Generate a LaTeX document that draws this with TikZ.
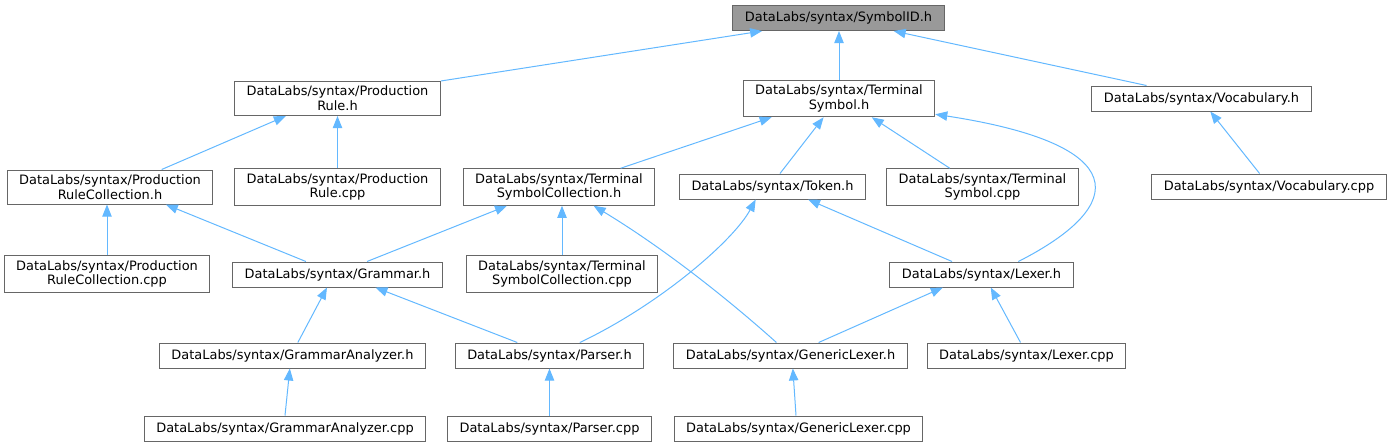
\documentclass[tikz,border=0pt]{standalone}
\usepackage{fontspec}
\setmainfont{DejaVu Sans}
\usepackage{tikz}
\usetikzlibrary{arrows.meta,calc}
\definecolor{edgeblue}{HTML}{63B8FF}
\definecolor{boxgrey}{HTML}{666666}
\definecolor{rootgrey}{HTML}{999999}

\begin{document}
\begin{tikzpicture}[x=0.75pt,y=-0.75pt,font=\fontsize{9.7}{11}\selectfont,
  fl/.style={draw=boxgrey,fill=white,line width=0.75pt,inner xsep=9pt,inner ysep=3.5pt,minimum height=18.75pt,align=center},
  ar/.style={-{Triangle[length=9pt,width=7pt]},draw=edgeblue,line width=0.75pt}]
\useasboundingbox (0,0) rectangle (1391,447);
\node[fl,fill=rootgrey] (sym) at (838.5,18) {DataLabs/syntax/SymbolID.h};
\node[fl] (prule) at (337.5,98.5) {DataLabs/syntax/Production\\Rule.h};
\node[fl] (tsym) at (839,98.5) {DataLabs/syntax/Terminal\\Symbol.h};
\node[fl] (vocab) at (1201.5,98.5) {DataLabs/syntax/Vocabulary.h};
\node[fl] (prc) at (110,187) {DataLabs/syntax/Production\\RuleCollection.h};
\node[fl] (prcpp) at (337.5,187) {DataLabs/syntax/Production\\Rule.cpp};
\node[fl] (tsc) at (559,187) {DataLabs/syntax/Terminal\\SymbolCollection.h};
\node[fl] (token) at (772.5,186.5) {DataLabs/syntax/Token.h};
\node[fl] (tscpp) at (982.5,187) {DataLabs/syntax/Terminal\\Symbol.cpp};
\node[fl] (vocpp) at (1269,186.5) {DataLabs/syntax/Vocabulary.cpp};
\node[fl] (prccpp) at (107,274) {DataLabs/syntax/Production\\RuleCollection.cpp};
\node[fl] (gram) at (337.5,274.5) {DataLabs/syntax/Grammar.h};
\node[fl] (tsccpp) at (562,274) {DataLabs/syntax/Terminal\\SymbolCollection.cpp};
\node[fl] (lexer) at (981.5,274.5) {DataLabs/syntax/Lexer.h};
\node[fl] (ganal) at (292.5,355.5) {DataLabs/syntax/GrammarAnalyzer.h};
\node[fl] (parser) at (549.5,355.5) {DataLabs/syntax/Parser.h};
\node[fl] (glex) at (790.5,355.5) {DataLabs/syntax/GenericLexer.h};
\node[fl] (lexcpp) at (1026.5,355.5) {DataLabs/syntax/Lexer.cpp};
\node[fl] (ganalcpp) at (285,428.5) {DataLabs/syntax/GrammarAnalyzer.cpp};
\node[fl] (parsercpp) at (549.5,428.5) {DataLabs/syntax/Parser.cpp};
\node[fl] (glexcpp) at (798.5,428.5) {DataLabs/syntax/GenericLexer.cpp};
\draw[ar] (prule.north east) -- ($(sym.south west)!.14!(sym.south east)$);
\draw[ar] (tsym.north) -- (tsym.north |- sym.south);
\draw[ar] ($(vocab.north west)!.25!(vocab.north east)$) -- ($(sym.south west)!.76!(sym.south east)$);
\draw[ar] ($(prc.north west)!.75!(prc.north east)$) -- ($(prule.south west)!.25!(prule.south east)$);
\draw[ar] (prcpp) -- (prule);
\draw[ar] ($(tsc.north west)!.82!(tsc.north east)$) -- ($(tsym.south west)!.15!(tsym.south east)$);
\draw[ar] ($(token.north west)!.54!(token.north east)$) -- ($(tsym.south west)!.42!(tsym.south east)$);
\draw[ar] ($(tscpp.north west)!.33!(tscpp.north east)$) -- ($(tsym.south west)!.67!(tsym.south east)$);
\draw[ar] ($(lexer.north west)!.7!(lexer.north east)$) .. controls +(112,-57) and +(196,30) .. ($(tsym.south east)+(0,-3)$);
\draw[ar] ($(vocpp.north west)!.46!(vocpp.north east)$) -- ($(vocab.south west)!.54!(vocab.south east)$);
\draw[ar] (prccpp.north) -- (prccpp.north |- prc.south);
\draw[ar] ($(gram.north west)!.35!(gram.north east)$) -- ($(prc.south west)!.77!(prc.south east)$);
\draw[ar] ($(gram.north west)!.64!(gram.north east)$) -- ($(tsc.south west)!.23!(tsc.south east)$);
\draw[ar] (tsccpp.north) -- (tsccpp.north |- tsc.south);
\draw[ar] ($(glex.north west)!.44!(glex.north east)$) .. controls +(-48,-43) and +(71,43) .. ($(tsc.south west)!.68!(tsc.south east)$);
\draw[ar] ($(parser.north west)!.66!(parser.north east)$) .. controls +(80,-38) and +(-22,41) .. ($(token.south west)!.41!(token.south east)$);
\draw[ar] ($(lexer.north west)!.34!(lexer.north east)$) -- ($(token.south west)!.69!(token.south east)$);
\draw[ar] ($(ganal.north west)!.52!(ganal.north east)$) -- ($(gram.south west)!.45!(gram.south east)$);
\draw[ar] ($(parser.north west)!.33!(parser.north east)$) -- ($(gram.south west)!.68!(gram.south east)$);
\draw[ar] ($(glex.north west)!.62!(glex.north east)$) -- ($(lexer.south west)!.29!(lexer.south east)$);
\draw[ar] ($(lexcpp.north west)!.47!(lexcpp.north east)$) -- ($(lexer.south west)!.55!(lexer.south east)$);
\draw[ar] ($(ganalcpp.north west)!.5!(ganalcpp.north east)$) -- ($(ganal.south west)!.49!(ganal.south east)$);
\draw[ar] (parsercpp) -- (parser);
\draw[ar] ($(glexcpp.north west)!.49!(glexcpp.north east)$) -- ($(glex.south west)!.51!(glex.south east)$);
\end{tikzpicture}
\end{document}
